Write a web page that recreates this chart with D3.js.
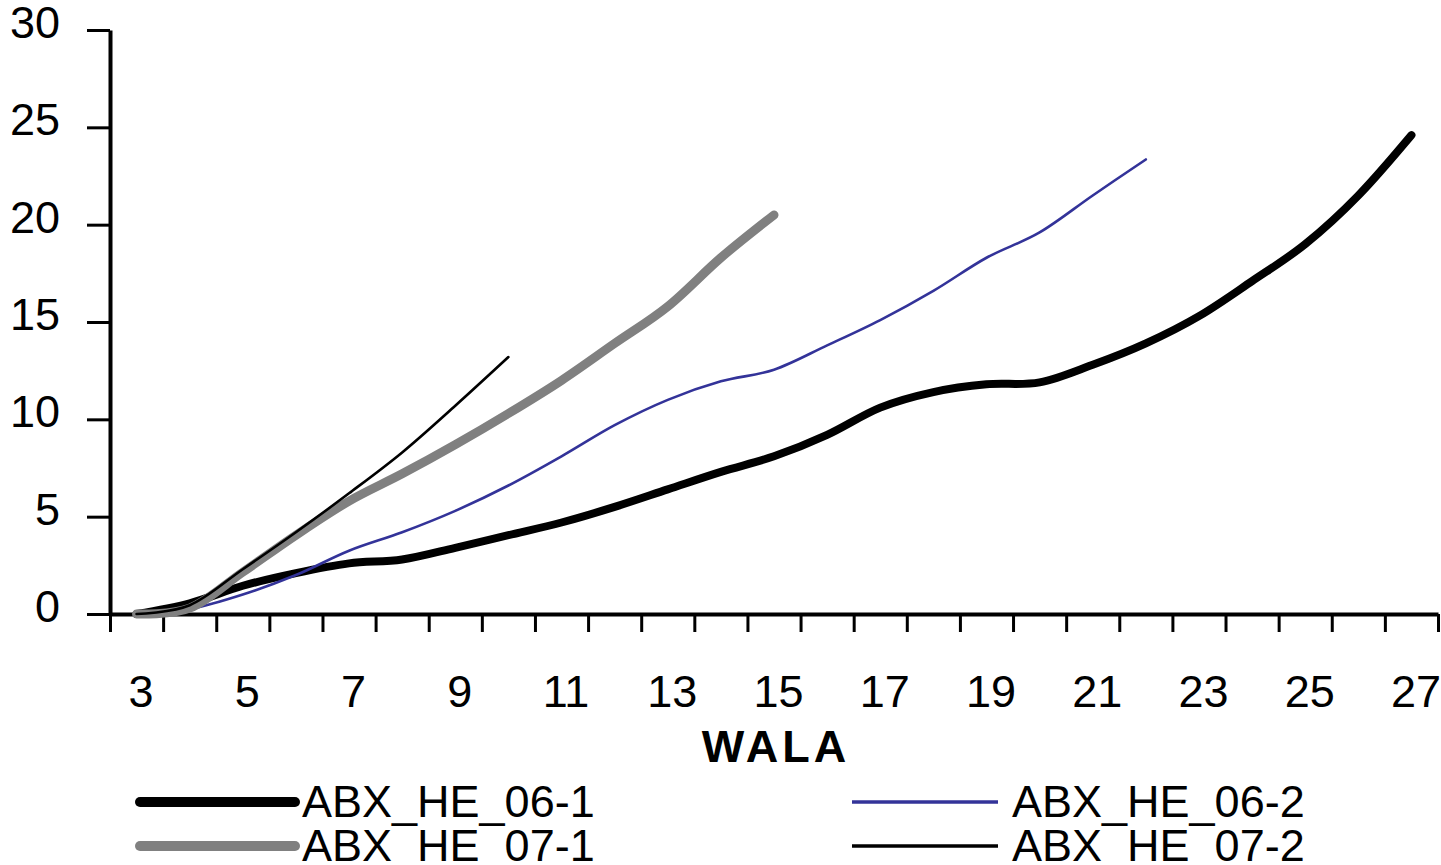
<!DOCTYPE html>
<html>
<head>
<meta charset="utf-8">
<script src="https://cdn.jsdelivr.net/npm/d3@7"></script>
<style>
  html, body { margin: 0; padding: 0; background: #fff; }
  svg { display: block; }
  text { font-family: "Liberation Sans", Arial, sans-serif; fill: #000; }
</style>
</head>
<body>
<svg id="chart" width="1441" height="865"></svg>
<script>
// WALA (week of age) categories on the x axis
const categories = [3,4,5,6,7,8,9,10,11,12,13,14,15,16,17,18,19,20,21,22,23,24,25,26,27];
const xTickLabels = [3,5,7,9,11,13,15,17,19,21,23,25,27];
const yTickValues = [0,5,10,15,20,25,30];

// Series values, one per week starting at WALA 3
const abxHe061 = [0, 0.55, 1.45, 2.1, 2.6, 2.8, 3.4, 4.05, 4.7, 5.5, 6.4, 7.3, 8.1, 9.2, 10.6, 11.4, 11.8, 11.9, 12.8, 13.9, 15.3, 17.1, 19.0, 21.5, 24.6];
const abxHe062 = [0, 0.25, 1.0, 2.0, 3.25, 4.2, 5.3, 6.6, 8.1, 9.7, 11.0, 11.95, 12.55, 13.8, 15.1, 16.6, 18.3, 19.6, 21.5, 23.35];
const abxHe071 = [0, 0.3, 2.15, 4.05, 5.8, 7.2, 8.7, 10.3, 12.0, 13.9, 15.8, 18.3, 20.5];
const abxHe072 = [0, 0.45, 2.3, 4.2, 6.2, 8.3, 10.7, 13.2];

const series = [
  { name: "ABX_HE_06-1", values: abxHe061, color: "#000000", width: 8 },
  { name: "ABX_HE_06-2", values: abxHe062, color: "#333399", width: 2.6 },
  { name: "ABX_HE_07-1", values: abxHe071, color: "#808080", width: 9 },
  { name: "ABX_HE_07-2", values: abxHe072, color: "#000000", width: 2.6 }
];

const svg = d3.select("#chart");
const plotLeft = 110, plotRight = 1438, plotTop = 30, plotBottom = 614;

// Category axis: each week occupies one slot, points sit at slot centres
const x = d3.scaleLinear()
  .domain([categories[0] - 0.5, categories[categories.length - 1] + 0.5])
  .range([plotLeft, plotRight]);
const y = d3.scaleLinear().domain([0, 30]).range([plotBottom, plotTop]);

const fontSize = 45;

// Y axis
const yAxis = svg.append("g")
  .attr("transform", `translate(${plotLeft},0)`)
  .call(d3.axisLeft(y).tickValues(yTickValues).tickSize(23).tickPadding(27).tickSizeOuter(0));
yAxis.select(".domain").attr("stroke", "#000").attr("stroke-width", 4);
yAxis.selectAll(".tick line").attr("stroke", "#000").attr("stroke-width", 3);
yAxis.selectAll(".tick text")
  .attr("font-size", fontSize)
  .attr("font-family", "Liberation Sans, Arial, sans-serif")
  .attr("fill", "#000")
  .attr("dy", "0.32em")
  .attr("y", -7);

// X axis: tick marks on slot boundaries
const boundaries = d3.range(categories.length + 1).map(i => categories[0] - 0.5 + i);
const xAxis = svg.append("g")
  .attr("transform", `translate(0,${plotBottom})`)
  .call(d3.axisBottom(x).tickValues(boundaries).tickSize(18).tickFormat("").tickSizeOuter(0));
xAxis.select(".domain").attr("stroke", "#000").attr("stroke-width", 4);
xAxis.selectAll(".tick line").attr("stroke", "#000").attr("stroke-width", 3);

// X axis labels on every other week
const xLabels = svg.append("g")
  .attr("transform", `translate(0,${plotBottom})`)
  .call(d3.axisBottom(x).tickValues(xTickLabels).tickSize(0).tickPadding(0));
xLabels.select(".domain").remove();
xLabels.selectAll(".tick text")
  .attr("font-size", fontSize)
  .attr("font-family", "Liberation Sans, Arial, sans-serif")
  .attr("fill", "#000")
  .attr("dx", 4)
  .attr("y", 93)
  .attr("dy", 0);

// Axis title
svg.append("text")
  .attr("x", 776)
  .attr("y", 762)
  .attr("text-anchor", "middle")
  .attr("font-size", fontSize)
  .attr("font-weight", "bold")
  .attr("letter-spacing", 4)
  .text("WALA");

// Smoothed series lines
const line = d3.line()
  .x((d, i) => x(categories[i]))
  .y(d => y(d))
  .curve(d3.curveCardinal.tension(0));

svg.append("g").selectAll("path")
  .data(series)
  .join("path")
  .attr("d", s => line(s.values))
  .attr("fill", "none")
  .attr("stroke", s => s.color)
  .attr("stroke-width", s => s.width)
  .attr("stroke-linecap", "round")
  .attr("stroke-linejoin", "round");

// Legend, two columns by two rows
const legendPos = [
  { lx: 140, ly: 802, tx: 302 },
  { lx: 852, ly: 802, tx: 1012 },
  { lx: 140, ly: 846, tx: 302 },
  { lx: 852, ly: 846, tx: 1012 }
];
const legend = svg.append("g");
series.forEach((s, i) => {
  const p = legendPos[i];
  const len = i % 2 === 0 ? 155 : 146;
  legend.append("line")
    .attr("x1", p.lx).attr("x2", p.lx + len)
    .attr("y1", p.ly).attr("y2", p.ly)
    .attr("stroke", s.color)
    .attr("stroke-width", s.width === 8 ? 10 : (s.width === 9 ? 10 : 3.5))
    .attr("stroke-linecap", s.width > 5 ? "round" : "butt");
  legend.append("text")
    .attr("x", p.tx)
    .attr("y", p.ly + 15)
    .attr("font-size", fontSize)
    .text(s.name);
});
</script>
</body>
</html>
